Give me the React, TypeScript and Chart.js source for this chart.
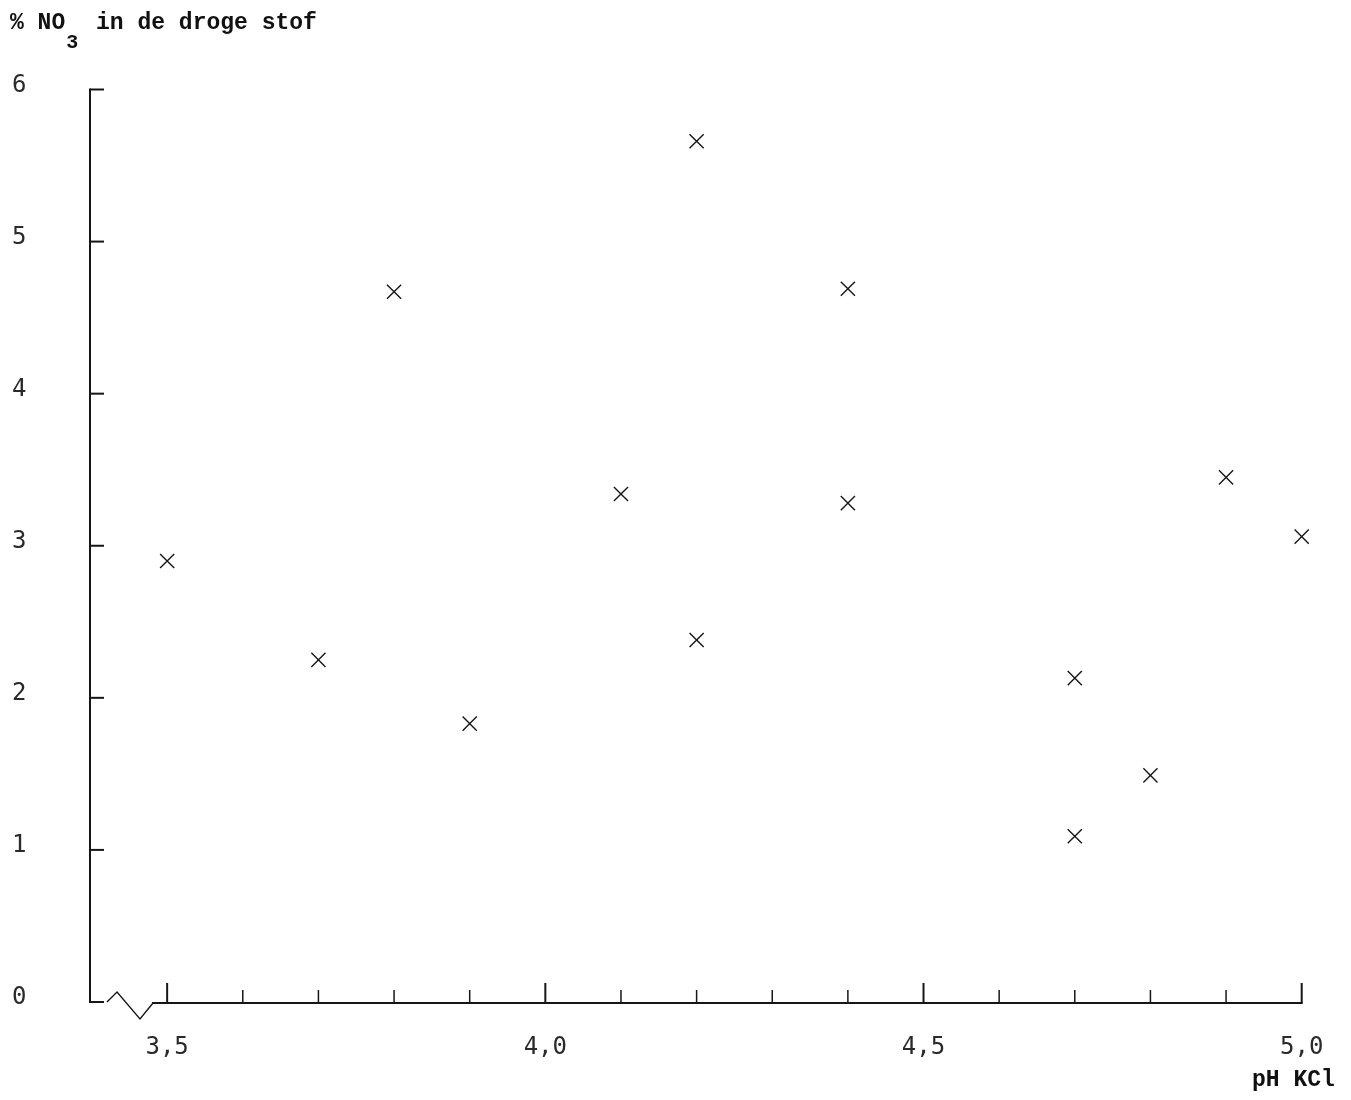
import React, { useEffect, useRef } from "react";
import { Chart, registerables } from "chart.js";

Chart.register(...registerables);

const PH_VALUES = [3.5, 3.7, 3.8, 3.9, 4.1, 4.2, 4.2, 4.4, 4.4, 4.7, 4.7, 4.8, 4.9, 5.0];
const NO3_VALUES = [2.9, 2.25, 4.67, 1.83, 3.34, 5.66, 2.38, 4.69, 3.28, 2.13, 1.09, 1.49, 3.45, 3.06];
const X_TICK_LABELS = [3.5, 4.0, 4.5, 5.0];
const X_MINOR_TICKS = [3.5, 3.6, 3.7, 3.8, 3.9, 4.0, 4.1, 4.2, 4.3, 4.4, 4.5, 4.6, 4.7, 4.8, 4.9, 5.0];
const Y_TICK_LABELS = [0, 1, 2, 3, 4, 5, 6];
const X_MIN = 3.398;
const X_MAX = 5.0;
const Y_MIN = 0;
const Y_MAX = 6;

const TITLE_PRE = "% NO";
const TITLE_SUB = "3";
const TITLE_POST = " in de droge stof";
const X_TITLE = "pH KCl";

const INK = "#161616";

const handAxes = {
  id: "handAxes",
  afterDatasetsDraw(chart: any) {
    const { ctx } = chart;
    const xs = chart.scales.x;
    const ys = chart.scales.y;
    const x0 = xs.getPixelForValue(X_MIN);
    const yb = ys.getPixelForValue(Y_MIN);
    const yt = ys.getPixelForValue(Y_MAX);
    const line = (a: number, b: number, c: number, d: number) => {
      ctx.beginPath();
      ctx.moveTo(a, b);
      ctx.lineTo(c, d);
      ctx.stroke();
    };
    ctx.save();
    ctx.strokeStyle = INK;
    ctx.lineWidth = 2;
    ctx.lineCap = "butt";
    // y axis
    line(x0, yt - 1, x0, yb + 1);
    Y_TICK_LABELS.forEach((v) => {
      const py = ys.getPixelForValue(v);
      line(x0, py, x0 + 14, py);
    });
    // axis break zigzag
    ctx.lineWidth = 1.4;
    ctx.beginPath();
    ctx.moveTo(x0 + 17, yb);
    ctx.lineTo(x0 + 27, yb - 10);
    ctx.lineTo(x0 + 50, yb + 17);
    ctx.lineTo(x0 + 63, yb + 1);
    ctx.stroke();
    // x axis
    ctx.lineWidth = 2;
    line(x0 + 62, yb + 1, xs.getPixelForValue(X_MAX) + 1, yb + 1);
    X_MINOR_TICKS.forEach((v, i) => {
      const px = xs.getPixelForValue(v);
      const len = i % 5 === 0 ? 20 : 13;
      ctx.lineWidth = i % 5 === 0 ? 2 : 1.5;
      line(px, yb + 1, px, yb + 1 - len);
    });
    ctx.restore();
  },
};

export default function App() {
  const ref = useRef<HTMLCanvasElement | null>(null);

  useEffect(() => {
    if (!ref.current) return;
    const data = PH_VALUES.map((x, i) => ({ x, y: NO3_VALUES[i] }));
    const chart = new Chart(ref.current, {
      type: "scatter",
      data: {
        datasets: [
          {
            data,
            pointStyle: "crossRot",
            pointRadius: 10,
            pointHoverRadius: 10,
            borderColor: INK,
            backgroundColor: INK,
            pointBorderWidth: 1.4,
            clip: false,
          } as any,
        ],
      },
      options: {
        animation: false,
        responsive: false,
        events: [],
        layout: { padding: { left: 12, top: 89.5, right: 49.3, bottom: 0 } },
        plugins: {
          legend: { display: false },
          tooltip: { enabled: false },
          title: { display: false },
        },
        scales: {
          x: {
            type: "linear",
            min: X_MIN,
            max: X_MAX,
            grid: { display: false, drawTicks: false },
            border: { display: false },
            afterBuildTicks: (s: any) => {
              s.ticks = X_TICK_LABELS.map((v) => ({ value: v }));
            },
            afterFit: (s: any) => {
              s.height = 98;
            },
            ticks: {
              autoSkip: false,
              maxRotation: 0,
              padding: 26,
              color: "#2a2a2a",
              font: { family: "'DejaVu Sans Mono', monospace", size: 24, lineHeight: 1.65 },
              callback: (v: any) => Number(v).toFixed(1).replace(".", ","),
            },
          },
          y: {
            type: "linear",
            min: Y_MIN,
            max: Y_MAX,
            grid: { display: false, drawTicks: false },
            border: { display: false },
            afterBuildTicks: (s: any) => {
              s.ticks = Y_TICK_LABELS.map((v) => ({ value: v }));
            },
            afterFit: (s: any) => {
              s.width = 78;
            },
            ticks: {
              crossAlign: "far",
              padding: 0,
              labelOffset: -4,
              color: "#2a2a2a",
              font: { family: "'DejaVu Sans Mono', monospace", size: 24 },
              callback: (v: any) => String(v),
            },
          },
        },
      },
      plugins: [handAxes],
    });
    return () => chart.destroy();
  }, []);

  const textStyle: React.CSSProperties = {
    position: "absolute",
    fontFamily: "'Liberation Mono', monospace",
    fontSize: 23,
    lineHeight: "23px",
    color: "#111",
    fontWeight: 600,
    whiteSpace: "pre",
  };

  return (
    <div style={{ position: "absolute", left: 0, top: 0, width: 1351, height: 1100, background: "#fff" }}>
      <canvas ref={ref} width={1351} height={1100} style={{ display: "block" }} />
      <div style={{ ...textStyle, left: 10, top: 12 }}>
        {TITLE_PRE}
        <span style={{ position: "relative", top: 19, fontSize: 20, marginLeft: 1, marginRight: 4 }}>{TITLE_SUB}</span>
        {TITLE_POST}
      </div>
      <div style={{ ...textStyle, left: 1252, top: 1069 }}>{X_TITLE}</div>
    </div>
  );
}
